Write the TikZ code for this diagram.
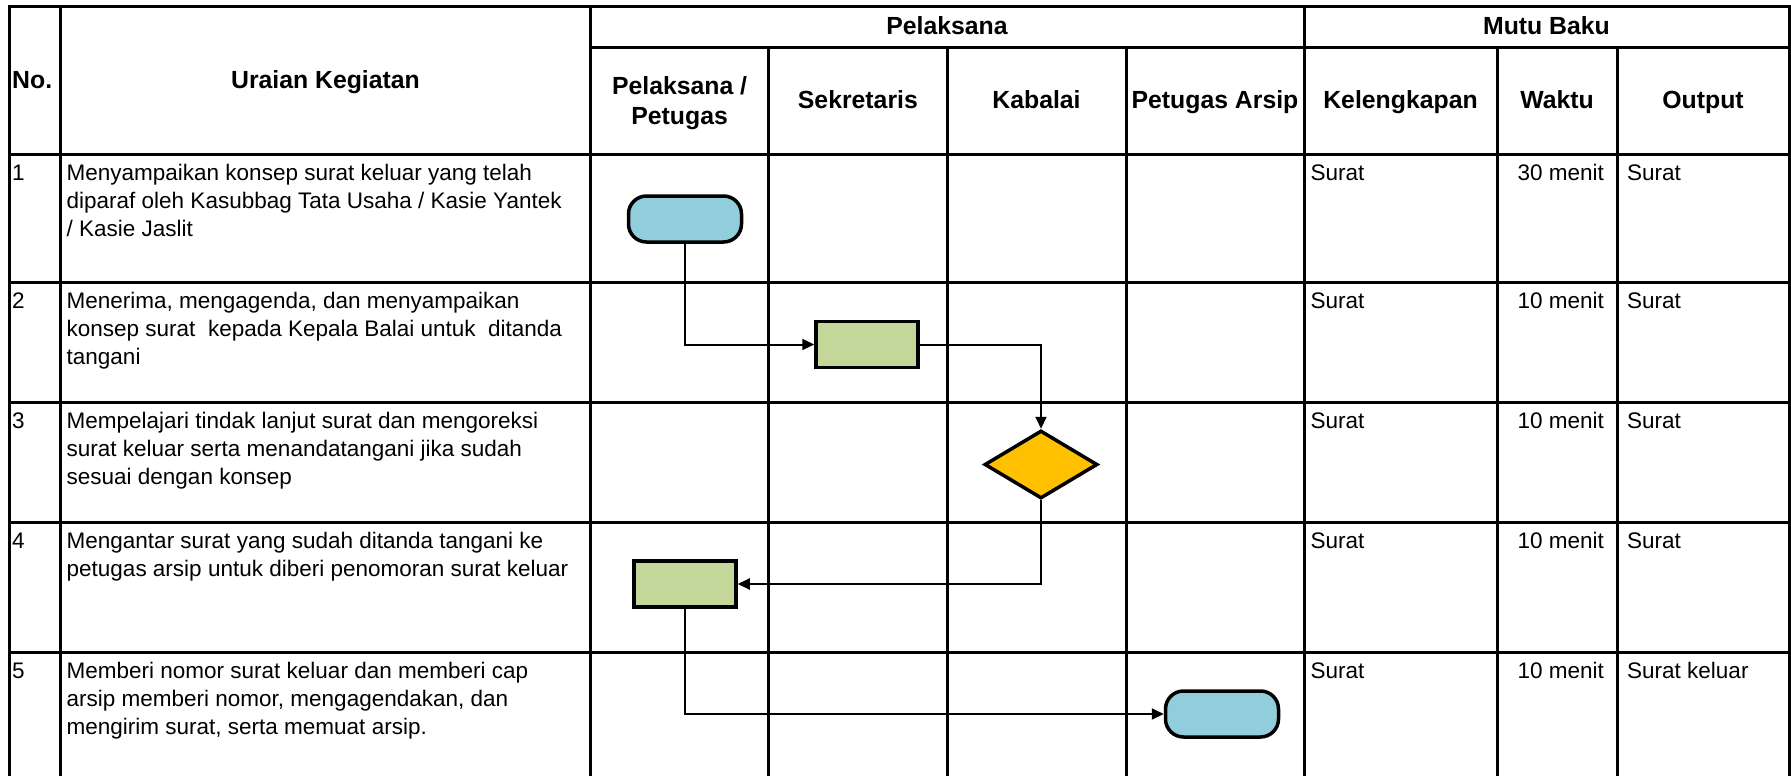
\documentclass[tikz,border=0pt]{standalone}
\usepackage{fontspec}
\setmainfont{Liberation Sans}
\usetikzlibrary{shapes.geometric,arrows.meta}
\definecolor{termblue}{HTML}{92CDDC}
\definecolor{procgreen}{HTML}{C4D79B}
\definecolor{decgold}{HTML}{FFC000}
\newcommand\bodyfs{\fontsize{22.5}{28.3}\selectfont}
\newcommand\hdrfs{\fontsize{24.8}{29.6}\selectfont\bfseries}
\begin{document}
\begin{tikzpicture}[x=1pt,y=-1pt,
  grid/.style={line width=3pt, line cap=rect},
  hdr/.style={font=\hdrfs, inner sep=0pt, align=center},
  hdrone/.style={hdr, text height=18pt, text depth=5pt},
  cell/.style={font=\bodyfs, inner sep=0pt, anchor=base west},
  rcell/.style={font=\bodyfs, inner sep=0pt, anchor=base east},
  desc/.style={font=\bodyfs, inner sep=0pt, anchor=north west, align=left},
  terminal/.style={draw, line width=3.5pt, fill=termblue, rounded corners=18pt, minimum width=113pt, minimum height=46pt, inner sep=0pt},
  process/.style={draw, line width=3.5pt, fill=procgreen, minimum width=102pt, minimum height=46pt, inner sep=0pt},
  decision/.style={draw, line width=3.5pt, fill=decgold, diamond, minimum width=113pt, minimum height=68pt, inner sep=0pt},
  flow/.style={line width=2pt, -{Triangle[length=12pt,width=11pt]}}
]
\useasboundingbox (0,0) rectangle (1791,776);
\fill[white] (0,0) rectangle (1791,776);

% grid
\draw[grid] (9,7) -- (1789,7);
\draw[grid] (590.5,48) -- (1789,48);
\foreach \yy in {154,282,402,522,652}{\draw[grid] (9,\yy) -- (1789,\yy);}
\foreach \xx in {9,60.5,590.5,1304,1789}{\draw[grid] (\xx,7) -- (\xx,790);}
\foreach \xx in {768.7,947,1126,1497,1617}{\draw[grid] (\xx,48) -- (\xx,790);}

% headers
\node[hdrone, anchor=west] (hno) at (12,82) {No.};
\node[hdrone] (hur) at (325.5,82) {Uraian Kegiatan};
\node[hdrone] (hpel) at (947,28) {Pelaksana};
\node[hdrone] (hmutu) at (1546.5,28) {Mutu Baku};
\node[hdr] (hpp) at (679.6,103) {Pelaksana /\\Petugas};
\node[hdrone] (hsek) at (857.9,102) {Sekretaris};
\node[hdrone] (hkab) at (1036.5,102) {Kabalai};
\node[hdrone] (harsip) at (1215,102) {Petugas Arsip};
\node[hdrone] (hkel) at (1400.5,102) {Kelengkapan};
\node[hdrone] (hwak) at (1557,102) {Waktu};
\node[hdrone] (hout) at (1703,102) {Output};

% row texts
\node[cell] (n1) at (12,180) {1};
\node[cell] (n2) at (12,308) {2};
\node[cell] (n3) at (12,428) {3};
\node[cell] (n4) at (12,548) {4};
\node[cell] (n5) at (12,678) {5};

\node[desc] (u1) at (66.5,160.2) {\strut Menyampaikan konsep surat keluar yang telah\\diparaf oleh Kasubbag Tata Usaha / Kasie Yantek\\/ Kasie Jaslit};
\node[desc] (u2) at (66.5,288.2) {\strut Menerima, mengagenda, dan menyampaikan\\konsep surat\ \ kepada Kepala Balai untuk\ \ ditanda\\tangani};
\node[desc] (u3) at (66.5,408.2) {\strut Mempelajari tindak lanjut surat dan mengoreksi\\surat keluar serta menandatangani jika sudah\\sesuai dengan konsep};
\node[desc] (u4) at (66.5,528.2) {\strut Mengantar surat yang sudah ditanda tangani ke\\petugas arsip untuk diberi penomoran surat keluar};
\node[desc] (u5) at (66.5,658.2) {\strut Memberi nomor surat keluar dan memberi cap\\arsip memberi nomor, mengagendakan, dan\\mengirim surat, serta memuat arsip.};

\node[cell] (k1) at (1310.5,180) {Surat};
\node[cell] (k2) at (1310.5,308) {Surat};
\node[cell] (k3) at (1310.5,428) {Surat};
\node[cell] (k4) at (1310.5,548) {Surat};
\node[cell] (k5) at (1310.5,678) {Surat};

\node[rcell] (w1) at (1604,180) {30 menit};
\node[rcell] (w2) at (1604,308) {10 menit};
\node[rcell] (w3) at (1604,428) {10 menit};
\node[rcell] (w4) at (1604,548) {10 menit};
\node[rcell] (w5) at (1604,678) {10 menit};

\node[cell] (o1) at (1627,180) {Surat};
\node[cell] (o2) at (1627,308) {Surat};
\node[cell] (o3) at (1627,428) {Surat};
\node[cell] (o4) at (1627,548) {Surat};
\node[cell] (o5) at (1627,678) {Surat keluar};

% shapes
\node[terminal] (t1) at (685,219) {};
\node[process] (p2) at (867,344.5) {};
\node[decision] (d3) at (1041,464.5) {};
\node[process] (p4) at (685,584) {};
\node[terminal] (t5) at (1222,714) {};

% connectors
\draw[flow] (t1.south) |- (p2.west);
\draw[flow] (p2.east) -| (d3.north);
\draw[flow] (d3.south) |- (p4.east);
\draw[flow] (p4.south) |- (t5.west);
\end{tikzpicture}
\end{document}
